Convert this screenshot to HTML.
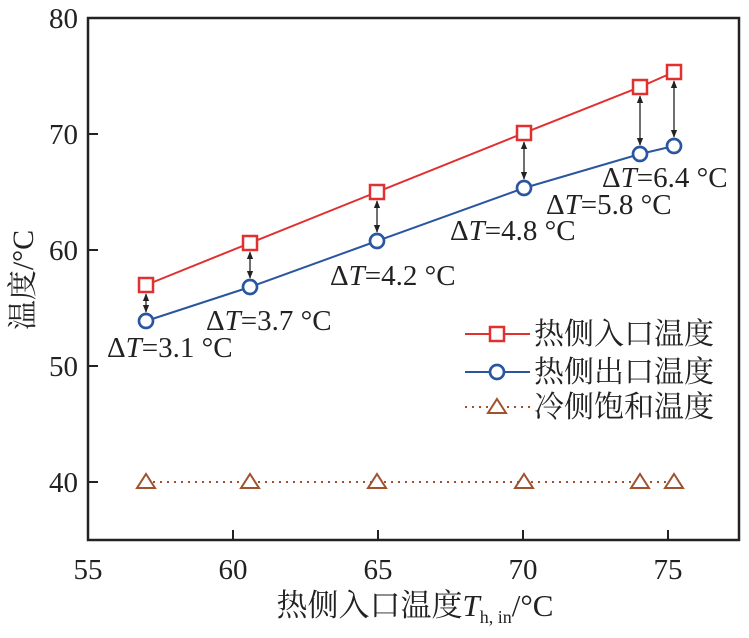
<!DOCTYPE html>
<html><head><meta charset="utf-8"><style>
body{margin:0;background:#fff}
text{font-family:"Liberation Serif","Noto Serif CJK SC",serif;fill:#222}
</style></head><body>
<svg width="749" height="633" viewBox="0 0 749 633" xmlns="http://www.w3.org/2000/svg">
<defs><marker id="ah" viewBox="0 0 10 10" refX="9" refY="5" markerWidth="6" markerHeight="6" orient="auto-start-reverse"><path d="M0,1 L10,5 L0,9 z" fill="#222"/></marker></defs>
<rect x="88" y="18" width="651" height="522" fill="none" stroke="#222" stroke-width="2.5"/>
<g stroke="#222" stroke-width="2">
<line x1="233" y1="540" x2="233" y2="530"/><line x1="378" y1="540" x2="378" y2="530"/><line x1="523" y1="540" x2="523" y2="530"/><line x1="668" y1="540" x2="668" y2="530"/>
<line x1="88" y1="482" x2="98" y2="482"/><line x1="88" y1="366" x2="98" y2="366"/><line x1="88" y1="250" x2="98" y2="250"/><line x1="88" y1="134" x2="98" y2="134"/>
</g>
<g font-size="29" text-anchor="middle">
<text x="88" y="579">55</text><text x="233" y="579">60</text><text x="378" y="579">65</text><text x="523" y="579">70</text><text x="668" y="579">75</text>
</g>
<g font-size="29" text-anchor="end">
<text x="78" y="492">40</text><text x="78" y="376">50</text><text x="78" y="260">60</text><text x="78" y="144">70</text><text x="78" y="28">80</text>
</g>
<text x="415" y="616" font-size="31" text-anchor="middle">热侧入口温度<tspan font-style="italic">T</tspan><tspan font-size="18" dy="7">h, in</tspan><tspan dy="-7">/°C</tspan></text>
<text transform="translate(33,280) rotate(-90)" font-size="30" text-anchor="middle">温度/°C</text>
<polyline points="146,482 677,482" fill="none" stroke="#a0522d" stroke-width="2" stroke-dasharray="2,5"/>
<polyline points="146,285 250,243 377,192 524,133 640,87 674,72" fill="none" stroke="#e03030" stroke-width="2"/>
<polyline points="146,321 250,287 377,241 524,188 640,154 674,146" fill="none" stroke="#2a55a0" stroke-width="2"/>
<g stroke="#222" stroke-width="1.3" marker-start="url(#ah)" marker-end="url(#ah)">
<line x1="146" y1="294" x2="146" y2="312"/><line x1="250" y1="252" x2="250" y2="278"/><line x1="377" y1="201" x2="377" y2="232"/><line x1="524" y1="142" x2="524" y2="179"/><line x1="640" y1="96" x2="640" y2="145"/><line x1="674" y1="81" x2="674" y2="137"/>
</g>
<g fill="#fff" stroke="#e03030" stroke-width="2.5">
<rect x="139" y="278" width="14" height="14"/><rect x="243" y="236" width="14" height="14"/><rect x="370" y="185" width="14" height="14"/><rect x="517" y="126" width="14" height="14"/><rect x="633" y="80" width="14" height="14"/><rect x="667" y="65" width="14" height="14"/>
</g>
<g fill="#fff" stroke="#2a55a0" stroke-width="2.7">
<circle cx="146" cy="321" r="7"/><circle cx="250" cy="287" r="7"/><circle cx="377" cy="241" r="7"/><circle cx="524" cy="188" r="7"/><circle cx="640" cy="154" r="7"/><circle cx="674" cy="146" r="7"/>
</g>
<g fill="#fff" stroke="#a0522d" stroke-width="2">
<path d="M146,474 L155,488 L137,488 Z"/><path d="M250,474 L259,488 L241,488 Z"/><path d="M377,474 L386,488 L368,488 Z"/><path d="M524,474 L533,488 L515,488 Z"/><path d="M640,474 L649,488 L631,488 Z"/><path d="M674,474 L683,488 L665,488 Z"/>
</g>
<g font-size="29">
<text x="107" y="357">Δ<tspan font-style="italic">T</tspan>=3.1 °C</text>
<text x="206" y="330">Δ<tspan font-style="italic">T</tspan>=3.7 °C</text>
<text x="330" y="285">Δ<tspan font-style="italic">T</tspan>=4.2 °C</text>
<text x="450" y="240">Δ<tspan font-style="italic">T</tspan>=4.8 °C</text>
<text x="546" y="214">Δ<tspan font-style="italic">T</tspan>=5.8 °C</text>
<text x="602" y="187">Δ<tspan font-style="italic">T</tspan>=6.4 °C</text>
</g>
<line x1="465" y1="334" x2="530" y2="334" stroke="#e03030" stroke-width="2"/>
<rect x="490" y="327" width="14" height="14" fill="#fff" stroke="#e03030" stroke-width="2.5"/>
<line x1="465" y1="372" x2="530" y2="372" stroke="#2a55a0" stroke-width="2"/>
<circle cx="497" cy="372" r="7" fill="#fff" stroke="#2a55a0" stroke-width="2.7"/>
<line x1="465" y1="407" x2="530" y2="407" stroke="#a0522d" stroke-width="2" stroke-dasharray="2,5"/>
<path d="M497,399 L506,413 L488,413 Z" fill="#fff" stroke="#a0522d" stroke-width="2"/>
<g font-size="30">
<text x="534" y="344">热侧入口温度</text>
<text x="534" y="382">热侧出口温度</text>
<text x="534" y="417">冷侧饱和温度</text>
</g>
</svg>
</body></html>
